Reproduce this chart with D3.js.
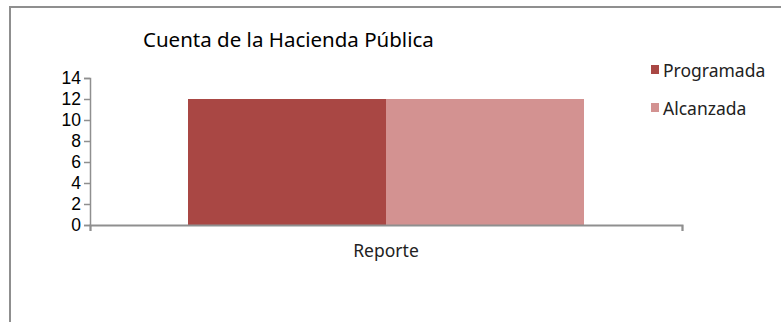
<!DOCTYPE html>
<html><head><meta charset="utf-8">
<script src="https://cdn.jsdelivr.net/npm/d3@7"></script>
<style>
html,body{margin:0;padding:0;background:#fff;}
svg{display:block;font-family:"Noto Sans","Open Sans",sans-serif;}
</style></head>
<body>
<svg id="chart" width="781" height="322"></svg>
<script>
const title = "Cuenta de la Hacienda Pública";
const categories = ["Reporte"];
const seriesNames = ["Programada", "Alcanzada"];
const programada = [12];
const alcanzada = [12];
const yTicks = [0, 2, 4, 6, 8, 10, 12, 14];
const colors = ["#a94744", "#d39291"];

const svg = d3.select("#chart");
const W = 781, H = 322;

// frame
svg.append("path")
  .attr("d", `M10,${H} L10,7 L${W},7`)
  .attr("fill", "none").attr("stroke", "#8f8f8f").attr("stroke-width", 2);

const x0 = 90, x1 = 682, yTop = 78, yBot = 225;
const y = d3.scaleLinear().domain([0, 14]).range([yBot, yTop]);
const xBand = d3.scaleBand().domain(categories).range([x0, x1]).paddingInner(0).paddingOuter(0.2475);
const xSub = d3.scaleBand().domain(seriesNames).range([0, xBand.bandwidth()]).padding(0);

// title
svg.append("text").attr("x", 143).attr("y", 47)
  .attr("font-size", 20.5).attr("fill", "#000").text(title);

// y axis
const yAxis = d3.axisLeft(y).tickValues(yTicks).tickSize(6).tickPadding(3);
const gy = svg.append("g").attr("transform", `translate(${x0},0)`).call(yAxis);
gy.select(".domain").attr("stroke", "#8f8f8f").attr("stroke-width", 1.5);
gy.selectAll(".tick line").attr("stroke", "#8f8f8f").attr("stroke-width", 1.5);
gy.selectAll(".tick text").attr("font-size", 17.5).attr("fill", "#000")
  .attr("font-family", "\"Liberation Sans\",Arial,sans-serif");

// bars
const data = categories.map((c, i) => ({cat: c, vals: [programada[i], alcanzada[i]]}));
const g = svg.append("g");
data.forEach(d => {
  d.vals.forEach((v, j) => {
    g.append("rect")
      .attr("x", xBand(d.cat) + xSub(seriesNames[j]))
      .attr("y", y(v))
      .attr("width", xSub.bandwidth())
      .attr("height", y(0) - y(v))
      .attr("fill", colors[j]);
  });
});

// x axis
const xAxis = d3.axisBottom(d3.scaleLinear().domain([0,1]).range([x0, x1]))
  .tickValues([0, 1]).tickSize(6).tickFormat("");
const gx = svg.append("g").attr("transform", `translate(0,${yBot})`).call(xAxis);
gx.select(".domain").attr("stroke", "#8f8f8f").attr("stroke-width", 2);
gx.selectAll(".tick line").attr("stroke", "#8f8f8f").attr("stroke-width", 1.5);

// category labels
categories.forEach(c => {
  svg.append("text").attr("x", xBand(c) + xBand.bandwidth() / 2).attr("y", 257)
    .attr("text-anchor", "middle").attr("font-size", 17.5).attr("fill", "#222").text(c);
});

// legend
const legY = [65, 103];
seriesNames.forEach((s, j) => {
  svg.append("rect").attr("x", 651).attr("y", legY[j]).attr("width", 8).attr("height", 9).attr("fill", colors[j]);
  svg.append("text").attr("x", 663).attr("y", legY[j] + 12).attr("font-size", 17.5).attr("fill", "#222").text(s);
});
</script>
</body></html>
